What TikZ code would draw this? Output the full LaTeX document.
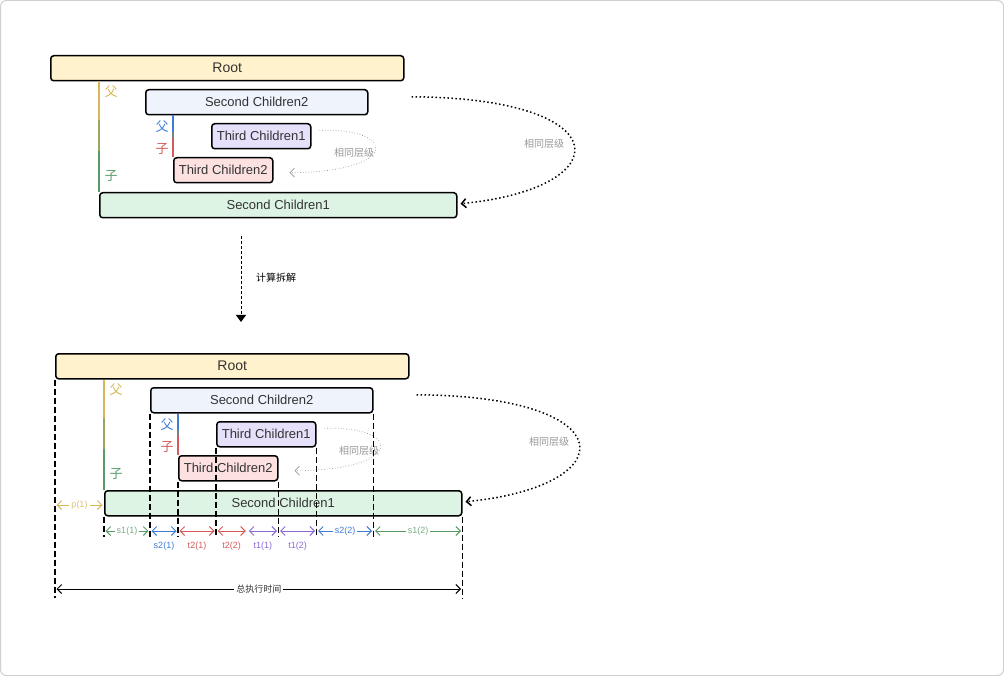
\documentclass[tikz,border=0pt]{standalone}
\usepackage{fontspec}
\setmainfont{Liberation Sans}
\newfontfamily\cjk{Noto Sans CJK SC}
\usepackage{xcolor}
\usepackage{tikz}
\usetikzlibrary{arrows.meta,calc}

\definecolor{rootfill}{HTML}{FFF2CC}
\definecolor{sctwofill}{HTML}{EEF3FC}
\definecolor{tconefill}{HTML}{E6E0FA}
\definecolor{tctwofill}{HTML}{FDE1E1}
\definecolor{sconefill}{HTML}{DDF4E4}
\definecolor{textgray}{HTML}{333333}
\definecolor{samegray}{HTML}{999999}
\definecolor{framegray}{HTML}{D0D0D0}
\definecolor{pgold}{HTML}{D6B656}
\definecolor{pgreen}{HTML}{5A9A67}
\definecolor{pblue}{HTML}{3D7DD8}
\definecolor{pred}{HTML}{D65A5A}
\definecolor{ppurple}{HTML}{8C6BD6}

\begin{document}
\begin{tikzpicture}[x=1pt,y=-1pt,>={Straight Barb[length=4.5pt,width=9pt]}]
  \tikzstyle{box}=[draw=black,line width=1.5pt,rounded corners=3pt,anchor=north west,minimum height=25pt,inner sep=0pt,text=textgray,font=\fontsize{13}{15}\selectfont]
  \tikzstyle{rel}=[font=\cjk\fontsize{13}{15}\selectfont]
  \tikzstyle{same}=[text=samegray,font=\cjk\fontsize{10}{12}\selectfont]
  \tikzstyle{cut}=[line width=1.8pt,dash pattern=on 6pt off 3pt]
  \tikzstyle{span}=[<->,line width=1pt,shorten <=1.5pt,shorten >=1.5pt]
  \tikzstyle{tag}=[font=\fontsize{9}{10}\selectfont,fill=white,inner sep=2pt]
  \tikzstyle{link}=[line width=1.5pt]

  % Frame
  \useasboundingbox (0,0) rectangle (1004,676);
  \draw[framegray,line width=1pt,rounded corners=6pt] (0.5,0.5) rectangle (1003.5,675.5);

  % Nodes (before)
  \node[box,fill=rootfill,minimum width=353pt,font=\fontsize{14}{16}\selectfont] (root1) at (50,55) {Root};
  \node[box,fill=sctwofill,minimum width=222pt] (sctwo1) at (145,89) {Second Children2};
  \node[box,fill=tconefill,minimum width=99pt] (tcone1) at (211,123) {Third Children1};
  \node[box,fill=tctwofill,minimum width=99pt] (tctwo1) at (173,157) {Third Children2};
  \node[box,fill=sconefill,minimum width=357pt] (scone1) at (99,192) {Second Children1};

  % Parent / child lines
  \coordinate (pa1) at (root1.south -| scone1.north west);
  \draw[link,pgold] (pa1) -- ($(pa1)!0.35!(scone1.north west)$);
  \draw[link,pgold!50!pgreen] ($(pa1)!0.35!(scone1.north west)$) -- ($(pa1)!0.63!(scone1.north west)$);
  \draw[link,pgreen] ($(pa1)!0.63!(scone1.north west)$) -- (scone1.north west);
  \node[rel,text=pgold] (fa1) at (111,92) {父};
  \node[rel,text=pgreen] (zi1) at (111,176) {子};
  \coordinate (pb1) at (sctwo1.south -| tctwo1.north west);
  \draw[link,pblue] (pb1) -- ($(pb1)!0.4!(tctwo1.north west)$);
  \draw[link,gray] ($(pb1)!0.4!(tctwo1.north west)$) -- ($(pb1)!0.55!(tctwo1.north west)$);
  \draw[link,pred] ($(pb1)!0.55!(tctwo1.north west)$) -- (tctwo1.north west);
  \node[rel,text=pblue] (fb1) at (162,127) {父};
  \node[rel,text=pred] (zb1) at (162,149) {子};

  % Same level
  \draw[samegray,line width=0.7pt,dotted,->] ($(tcone1.east)+(8,-6)$) .. controls (398,128) and (400,172) .. ($(tctwo1.east)+(16,2.5)$);
  \node[same] (lvla1) at (354,153) {相同层级};
  \draw[line width=1.5pt,dash pattern=on 1.5pt off 2.5pt,->] ($(sctwo1.east)+(43,-5.5)$) .. controls (620,98) and (620,188) .. ($(scone1.east)+(3,-1.5)$);
  \node[same] (lvlb1) at (544,144) {相同层级};

  % Split
  \coordinate (calcA) at (241,236);
  \coordinate (calcB) at (241,322);
  \draw[line width=1pt,dash pattern=on 3pt off 2pt,-{Triangle[length=7pt,width=10pt]}] (calcA) -- (calcB);
  \node[font=\cjk\fontsize{10}{12}\selectfont] (calc) at (276,278) {计算拆解};

  % Nodes (after)
  \node[box,fill=rootfill,minimum width=353pt,font=\fontsize{14}{16}\selectfont] (root2) at (55,353) {Root};
  \node[box,fill=sctwofill,minimum width=222pt] (sctwo2) at (150,387) {Second Children2};
  \node[box,fill=tconefill,minimum width=99pt] (tcone2) at (216,421) {Third Children1};
  \node[box,fill=tctwofill,minimum width=99pt] (tctwo2) at (178,455) {Third Children2};
  \node[box,fill=sconefill,minimum width=357pt] (scone2) at (104,490) {Second Children1};

  \coordinate (pa2) at (root2.south -| scone2.north west);
  \draw[link,pgold] (pa2) -- ($(pa2)!0.35!(scone2.north west)$);
  \draw[link,pgold!50!pgreen] ($(pa2)!0.35!(scone2.north west)$) -- ($(pa2)!0.63!(scone2.north west)$);
  \draw[link,pgreen] ($(pa2)!0.63!(scone2.north west)$) -- (scone2.north west);
  \node[rel,text=pgold] (fa2) at (116,390) {父};
  \node[rel,text=pgreen] (zi2) at (116,474) {子};
  \coordinate (pb2) at (sctwo2.south -| tctwo2.north west);
  \draw[link,pblue] (pb2) -- ($(pb2)!0.4!(tctwo2.north west)$);
  \draw[link,gray] ($(pb2)!0.4!(tctwo2.north west)$) -- ($(pb2)!0.55!(tctwo2.north west)$);
  \draw[link,pred] ($(pb2)!0.55!(tctwo2.north west)$) -- (tctwo2.north west);
  \node[rel,text=pblue] (fb2) at (167,425) {父};
  \node[rel,text=pred] (zb2) at (167,447) {子};

  \draw[samegray,line width=0.7pt,dotted,->] ($(tcone2.east)+(8,-6)$) .. controls (403,426) and (405,470) .. ($(tctwo2.east)+(16,2.5)$);
  \node[same] (lvla2) at (359,451) {相同层级};
  \draw[line width=1.5pt,dash pattern=on 1.5pt off 2.5pt,->] ($(sctwo2.east)+(43,-5.5)$) .. controls (625,396) and (625,486) .. ($(scone2.east)+(3,-1.5)$);
  \node[same] (lvlb2) at (549,442) {相同层级};

  % Cuts
  \coordinate (prow) at (0,505);
  \coordinate (arow) at (0,531);
  \coordinate (low) at (0,537);
  \coordinate (trow) at (0,589);
  \coordinate (floor) at (0,598);
  \coordinate (half) at ($(tcone2.south west)!0.5!(tctwo2.south east)$);
  \draw[cut] (root2.south west) -- (root2.south west |- floor);
  \draw[cut] (scone2.south east) -- (scone2.south east |- floor);
  \draw[cut] (scone2.south west) -- (scone2.south west |- low);
  \foreach \n/\a in {sctwo2/south west,sctwo2/south east,tcone2/south west,tcone2/south east,tctwo2/south west,tctwo2/south east}
    \draw[cut] (\n.\a) -- (\n.\a |- low);

  % Spans
  \draw[span,pgold] (root2.south west |- prow) -- (scone2.south west |- prow) node[tag,midway,text=pgold!80] {p(1)};
  \draw[span,pgreen] (scone2.south west |- arow) -- (sctwo2.south west |- arow) node[tag,midway,text=pgreen!80] {s1(1)};
  \draw[span,pblue] (sctwo2.south west |- arow) -- (tctwo2.south west |- arow) node[tag,midway,yshift=-15pt] {s2(1)};
  \draw[span,pred] (tctwo2.south west |- arow) -- (tcone2.south west |- arow) node[tag,midway,yshift=-15pt] {t2(1)};
  \draw[span,pred] (tcone2.south west |- arow) -- (half |- arow) node[tag,midway,yshift=-15pt] {t2(2)};
  \draw[span,ppurple] (half |- arow) -- (tctwo2.south east |- arow) node[tag,midway,yshift=-15pt] {t1(1)};
  \draw[span,ppurple] (tctwo2.south east |- arow) -- (tcone2.south east |- arow) node[tag,midway,yshift=-15pt] {t1(2)};
  \draw[span,pblue] (tcone2.south east |- arow) -- (sctwo2.south east |- arow) node[tag,midway] {s2(2)};
  \draw[span,pgreen] (sctwo2.south east |- arow) -- (scone2.south east |- arow) node[tag,midway,text=pgreen!80] {s1(2)};
  \draw[span,black] (root2.south west |- trow) -- (scone2.south east |- trow) node[tag,midway,font=\cjk\fontsize{9}{10}\selectfont,text=textgray] {总执行时间};
\end{tikzpicture}
\end{document}
